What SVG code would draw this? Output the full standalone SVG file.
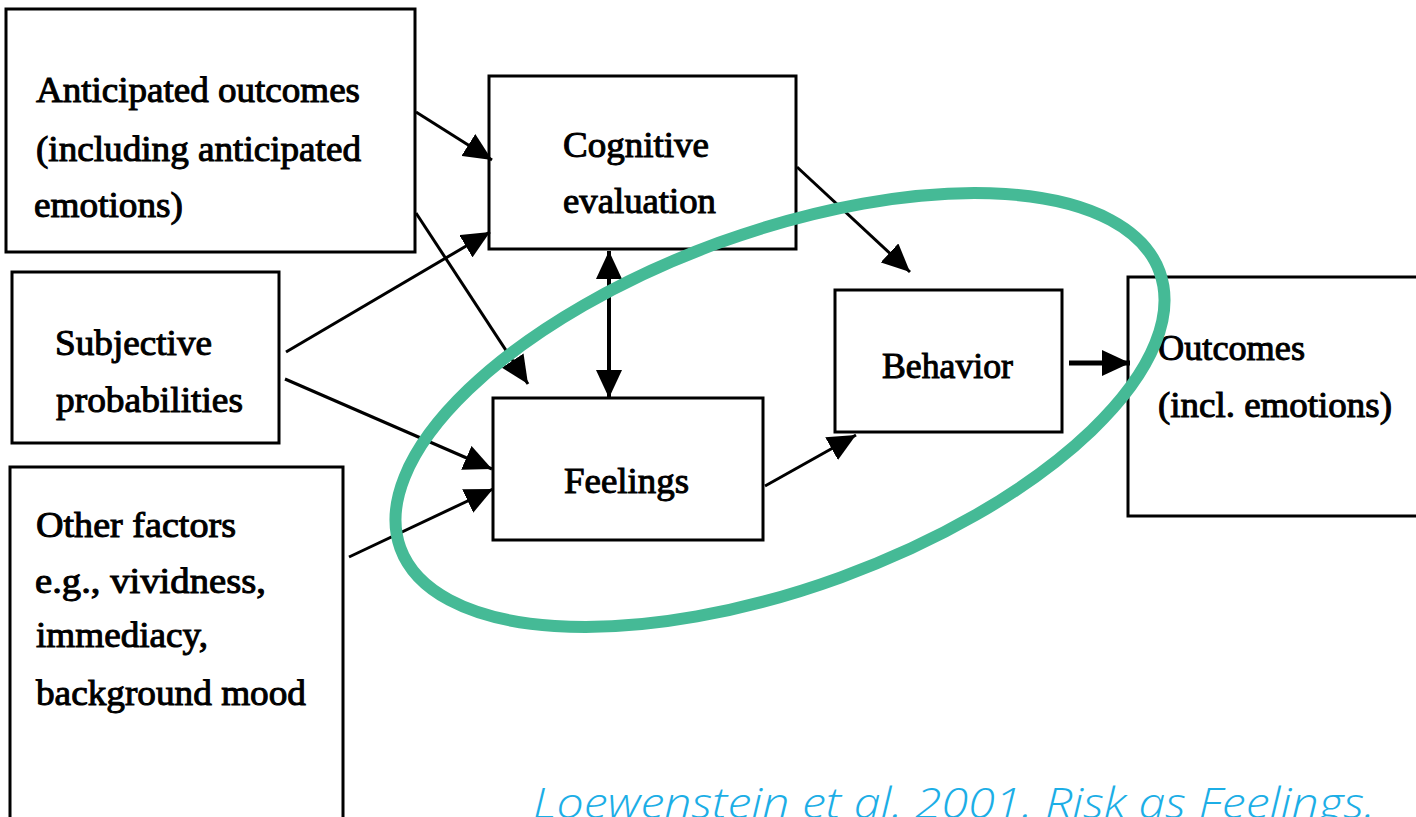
<svg xmlns="http://www.w3.org/2000/svg" width="1416" height="817" viewBox="0 0 1416 817">
<style>
.box{fill:#fff;stroke:#000;stroke-width:3}
.t{font-family:"Liberation Serif","DejaVu Serif",serif;font-size:36px;fill:#000;stroke:#000;stroke-width:1}
.c{fill:none;stroke:#000;stroke-width:3}
.cap{font-family:"Open Sans","Lato",sans-serif;font-style:italic;font-weight:300;font-size:42px;fill:#1CAEE6}
</style>
<defs>
<marker id="ah" viewBox="0 0 28 26" refX="28" refY="13" markerWidth="28" markerHeight="26" markerUnits="userSpaceOnUse" orient="auto-start-reverse">
<path d="M0,0 L28,13 L0,26 z" fill="#000"/>
</marker>
</defs>
<rect width="1416" height="817" fill="#fff"/>
<g id="n-anticipated">
<rect class="box" x="6" y="9" width="409" height="243"/>
<text class="t" x="36" y="102" textLength="324" lengthAdjust="spacingAndGlyphs">Anticipated outcomes</text>
<text class="t" x="36" y="161" textLength="325" lengthAdjust="spacingAndGlyphs">(including anticipated</text>
<text class="t" x="34" y="217" textLength="149" lengthAdjust="spacingAndGlyphs">emotions)</text>
</g>
<g id="n-subjective">
<rect class="box" x="12" y="272" width="267" height="171"/>
<text class="t" x="55" y="355" textLength="157" lengthAdjust="spacingAndGlyphs">Subjective</text>
<text class="t" x="56" y="412" textLength="187" lengthAdjust="spacingAndGlyphs">probabilities</text>
</g>
<g id="n-other">
<path class="box" d="M10,830 L10,467 L343,467 L343,830"/>
<text class="t" x="36" y="537" textLength="200" lengthAdjust="spacingAndGlyphs">Other factors</text>
<text class="t" x="35" y="593" textLength="231" lengthAdjust="spacingAndGlyphs">e.g., vividness,</text>
<text class="t" x="36" y="647" textLength="172" lengthAdjust="spacingAndGlyphs">immediacy,</text>
<text class="t" x="36" y="705" textLength="270" lengthAdjust="spacingAndGlyphs">background mood</text>
</g>
<g id="n-cognitive">
<rect class="box" x="489" y="76" width="307" height="173"/>
<text class="t" x="563" y="157" textLength="146" lengthAdjust="spacingAndGlyphs">Cognitive</text>
<text class="t" x="563" y="213" textLength="153" lengthAdjust="spacingAndGlyphs">evaluation</text>
</g>
<g id="n-feelings">
<rect class="box" x="493" y="398" width="270" height="142"/>
<text class="t" x="564" y="493" textLength="125" lengthAdjust="spacingAndGlyphs">Feelings</text>
</g>
<g id="n-behavior">
<rect class="box" x="835" y="290" width="227" height="142"/>
<text class="t" x="882" y="378" textLength="131" lengthAdjust="spacingAndGlyphs">Behavior</text>
</g>
<g id="n-outcomes">
<path class="box" d="M1430,277 L1128,277 L1128,516 L1430,516"/>
<text class="t" x="1158" y="360" textLength="147" lengthAdjust="spacingAndGlyphs">Outcomes</text>
<text class="t" x="1158" y="417" textLength="234" lengthAdjust="spacingAndGlyphs">(incl. emotions)</text>
</g>
<g id="connectors">
<line class="c" x1="416" y1="112" x2="492" y2="160" marker-end="url(#ah)"/>
<line class="c" x1="416" y1="213" x2="528" y2="384" marker-end="url(#ah)"/>
<line class="c" x1="286" y1="352" x2="490" y2="232" marker-end="url(#ah)"/>
<line class="c" x1="285" y1="379" x2="492" y2="469" marker-end="url(#ah)"/>
<line class="c" x1="349" y1="557" x2="493" y2="489" marker-end="url(#ah)"/>
<line class="c" x1="609" y1="251" x2="609" y2="398" style="stroke-width:4" marker-start="url(#ah)" marker-end="url(#ah)"/>
<line class="c" x1="797" y1="167" x2="910" y2="272" marker-end="url(#ah)"/>
<line class="c" x1="765" y1="486" x2="856" y2="435" marker-end="url(#ah)"/>
<line class="c" x1="1069" y1="363" x2="1130" y2="363" style="stroke-width:5" marker-end="url(#ah)"/>
</g>
<g id="highlight">
<ellipse cx="780" cy="410" rx="404" ry="178" transform="rotate(-20 780 410)" fill="none" stroke="#45BA96" stroke-width="12"/>
</g>
<text class="cap" x="533" y="818" textLength="842" lengthAdjust="spacingAndGlyphs">Loewenstein et al. 2001. Risk as Feelings.</text>
</svg>
